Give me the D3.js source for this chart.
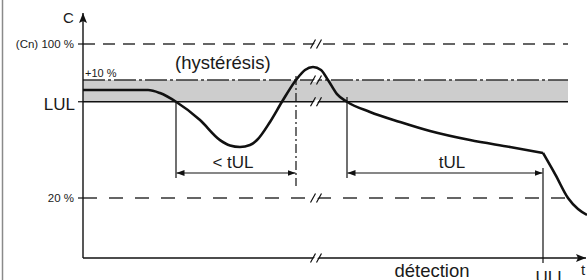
<!DOCTYPE html>
<head>
  <meta charset="utf-8">
  <script src="https://cdn.jsdelivr.net/npm/d3@7"></script>
  <style>
    body { margin:0; background:#fff; }
    svg { display:block; }
    text { font-family: "Liberation Sans", Arial, sans-serif; fill:#1a1a1a; }
  </style>
</head>
<body>
<script>
  // levels, in % of Cn
  var levelValues = [100, 81.3, 70, 20];
  var levelLabels = ["(Cn) 100 %", "+10 %", "LUL", "20 %"];

  // concentration curve (t in arbitrary units, C in % of Cn)
  var curveT = [0, 13, 15.4, 18.6, 23.4, 27.4, 29.4, 31.4, 33.4, 34.8, 37.4, 39.8, 42.6, 44.4, 46, 47.6, 49, 50.8, 52.8, 57.4, 63.4, 69.4, 77.4, 85.4, 92];
  var curveC = [76.1, 76.1, 74.5, 70, 60.5, 50.1, 47.3, 46.5, 47.5, 50.1, 59.5, 70, 81.3, 86.5, 88.05, 86.5, 81.3, 74, 70, 64.7, 59.5, 54.8, 50.1, 46.5, 43.4];
  // fast drop after the alarm
  var dropT = [92, 94.5, 97, 99, 100.8];
  var dropC = [43.4, 32, 20, 14.3, 11.2];

  // time marks
  var tEnter = 18.6, tLeave = 42.6, tReturn = 52.8, tAlarm = 92, tBreak = 46.6, tEnd = 97;

  var width = 587, height = 280;
  var x = d3.scaleLinear().domain([0, 100]).range([83, 583]);
  var y = d3.scaleLinear().domain([20, 100]).range([198, 44]);
  var cMin = y.invert(258);

  var svg = d3.select("body").append("svg")
      .attr("width", width).attr("height", height);

  var defs = svg.append("defs");
  defs.append("marker").attr("id", "ah")
      .attr("viewBox", "0 0 8 6").attr("refX", 8).attr("refY", 3)
      .attr("markerWidth", 8).attr("markerHeight", 6)
      .attr("markerUnits", "userSpaceOnUse").attr("orient", "auto-start-reverse")
    .append("path").attr("d", "M0,0L8,3L0,6Z").attr("fill", "#111");
  defs.append("marker").attr("id", "axh")
      .attr("viewBox", "0 0 10 8").attr("refX", 10).attr("refY", 4)
      .attr("markerWidth", 10).attr("markerHeight", 8)
      .attr("markerUnits", "userSpaceOnUse").attr("orient", "auto")
    .append("path").attr("d", "M0,0L10,4L0,8L2,4Z").attr("fill", "#111");

  // left frame edge
  svg.append("line").attr("x1", 2.5).attr("x2", 2.5).attr("y1", 0).attr("y2", height)
      .attr("stroke", "#8a8a8a").attr("stroke-width", 1.5);

  // hysteresis band
  svg.append("rect")
      .attr("x", x(0)).attr("y", y(levelValues[1]))
      .attr("width", x(tEnd) - x(0)).attr("height", y(levelValues[2]) - y(levelValues[1]))
      .attr("fill", "#cdcdcd");

  var dashes = ["12,8", "22,3,3,3", null, "14,12"];
  svg.selectAll(".level").data(levelValues).enter().append("line")
      .attr("class", "level")
      .attr("x1", x(0)).attr("x2", x(tEnd))
      .attr("y1", function(d) { return y(d); }).attr("y2", function(d) { return y(d); })
      .attr("stroke", function(d, i) { return i == 2 ? "#111" : "#333"; })
      .attr("stroke-width", 1.3)
      .attr("stroke-dasharray", function(d, i) { return dashes[i]; });

  // ticks on the C axis
  svg.selectAll(".tick").data([levelValues[0], levelValues[2], levelValues[3]]).enter().append("line")
      .attr("x1", x(0) - 5).attr("x2", x(0))
      .attr("y1", function(d) { return y(d); }).attr("y2", function(d) { return y(d); })
      .attr("stroke", "#111").attr("stroke-width", 1.2);

  // level labels
  var lbl = svg.append("g");
  lbl.append("text").attr("x", 74).attr("y", y(levelValues[0]) + 4)
      .attr("text-anchor", "end").attr("font-size", 11.5).text(levelLabels[0]);
  lbl.append("text").attr("x", x(0) + 2).attr("y", y(levelValues[1]) - 2.5)
      .attr("font-size", 11).text(levelLabels[1]);
  lbl.append("text").attr("x", 75).attr("y", y(levelValues[2]) + 8)
      .attr("text-anchor", "end").attr("font-size", 17).text(levelLabels[2]);
  lbl.append("text").attr("x", 74).attr("y", y(levelValues[3]) + 4)
      .attr("text-anchor", "end").attr("font-size", 11.5).text(levelLabels[3]);
  lbl.append("text").attr("x", 175).attr("y", 69)
      .attr("font-size", 18.5).text("(hystérésis)");

  // axes
  svg.append("line").attr("x1", x(0)).attr("x2", x(0))
      .attr("y1", y(cMin)).attr("y2", 13)
      .attr("stroke", "#111").attr("stroke-width", 1.4).attr("marker-end", "url(#axh)");
  svg.append("line").attr("x1", x(0)).attr("x2", 586)
      .attr("y1", y(cMin)).attr("y2", y(cMin))
      .attr("stroke", "#111").attr("stroke-width", 1.4).attr("marker-end", "url(#axh)");
  svg.append("text").attr("x", 63).attr("y", 23).attr("font-size", 15).text("C");
  svg.append("text").attr("x", 581).attr("y", 275).attr("font-size", 15).text("t");

  // axis breaks
  var breaks = svg.selectAll(".brk").data(levelValues.concat([cMin])).enter().append("g")
      .attr("transform", function(d) { return "translate(" + x(tBreak) + "," + y(d) + ")"; });
  breaks.append("path").attr("d", "M-4,2L0,-2L4,-2L0,2Z").attr("fill", "#fff");
  breaks.append("path").attr("d", "M-5.5,4.5L-0.5,-4.5M0.5,4.5L5.5,-4.5")
      .attr("stroke", "#111").attr("stroke-width", 1.2).attr("fill", "none");

  // vertical time markers
  var vlines = [
    [tEnter, y(levelValues[2]), 178, null],
    [tLeave, 76, 186, "9,3,2,3"],
    [tReturn, 97, 178, null],
    [tAlarm, 168, 263, null]
  ];
  svg.selectAll(".vl").data(vlines).enter().append("line")
      .attr("x1", function(d) { return x(d[0]); }).attr("x2", function(d) { return x(d[0]); })
      .attr("y1", function(d) { return d[1]; }).attr("y2", function(d) { return d[2]; })
      .attr("stroke", "#111").attr("stroke-width", 1.2)
      .attr("stroke-dasharray", function(d) { return d[3]; });

  // duration arrows
  var spans = [[tEnter, tLeave, "< tUL", -3], [tReturn, tAlarm, "tUL", 7]];
  svg.selectAll(".sp").data(spans).enter().append("line")
      .attr("x1", function(d) { return x(d[0]) + 0.5; }).attr("x2", function(d) { return x(d[1]) - 0.5; })
      .attr("y1", 173).attr("y2", 173)
      .attr("stroke", "#111").attr("stroke-width", 1.2)
      .attr("marker-start", "url(#ah)").attr("marker-end", "url(#ah)");
  svg.selectAll(".spl").data(spans).enter().append("text")
      .attr("x", function(d) { return (x(d[0]) + x(d[1])) / 2 + d[3]; })
      .attr("y", 168).attr("text-anchor", "middle").attr("font-size", 17)
      .text(function(d) { return d[2]; });

  svg.append("text").attr("x", 432).attr("y", 277).attr("text-anchor", "middle")
      .attr("font-size", 18.5).text("détection");
  // cut by the bottom edge, as in the source figure
  svg.append("text").attr("x", 551).attr("y", 283).attr("text-anchor", "middle")
      .attr("font-size", 17).text("ULL");

  // concentration curve
  var line = d3.line()
      .x(function(d) { return x(d[0]); })
      .y(function(d) { return y(d[1]); })
      .curve(d3.curveMonotoneX);
  svg.append("path").datum(d3.zip(curveT, curveC))
      .attr("d", line).attr("fill", "none").attr("stroke", "#111").attr("stroke-width", 2.6)
      .attr("stroke-linejoin", "round");
  svg.append("path").datum(d3.zip(dropT, dropC))
      .attr("d", line).attr("fill", "none").attr("stroke", "#111").attr("stroke-width", 2.6);
</script>
</body>
